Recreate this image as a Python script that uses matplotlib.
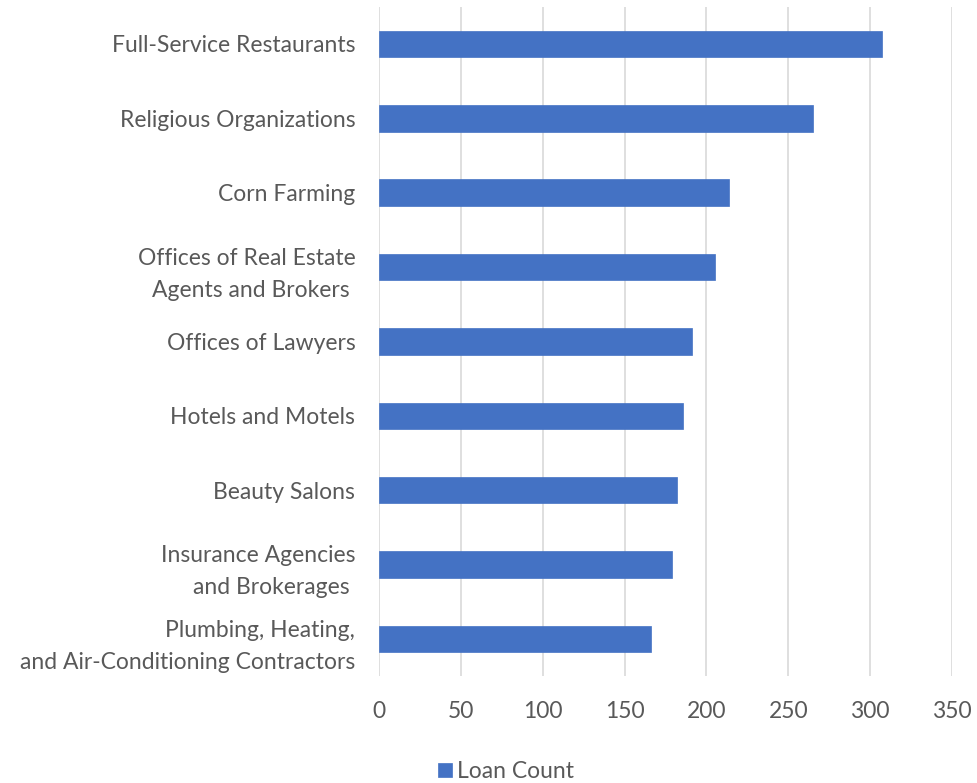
import matplotlib
matplotlib.use("Agg")
import matplotlib.pyplot as plt

categories = [
    "Full-Service Restaurants",
    "Religious Organizations",
    "Corn Farming",
    "Offices of Real Estate\nAgents and Brokers ",
    "Offices of Lawyers",
    "Hotels and Motels",
    "Beauty Salons",
    "Insurance Agencies\nand Brokerages ",
    "Plumbing, Heating,\nand Air-Conditioning Contractors",
]
loan_count = [307, 265, 214, 205, 191, 186, 182, 179, 166]
xticks = [0, 50, 100, 150, 200, 250, 300, 350]

plt.rcParams['font.family'] = ['Lato', 'DejaVu Sans']

fig = plt.figure(figsize=(9.77, 7.83), dpi=100)
ax = fig.add_axes([0.3879, 0.1367, 0.9744 - 0.3879, 0.9913 - 0.1367])

ypos = list(range(len(categories)))
ax.barh(ypos, loan_count, height=0.355, color="#4472C4", edgecolor="#4472C4",
        linewidth=0.5, label="Loan Count", zorder=3)
ax.set_yticks(ypos)
ax.set_yticklabels(categories, multialignment='right', linespacing=1.65)
ax.set_ylim(len(categories) - 0.5, -0.5)
ax.set_xlim(0, 350)
ax.set_xticks(xticks)
ax.set_xticklabels([str(t) for t in xticks])
ax.grid(axis='x', color="#d9d9d9", linewidth=1.2, zorder=0)
for s in ax.spines.values():
    s.set_visible(False)
ax.tick_params(axis='both', length=0, labelsize=16.5, colors="#595959")
ax.tick_params(axis='y', pad=17)
ax.tick_params(axis='x', pad=18)

fig.legend(loc='lower center', bbox_to_anchor=(0.518, -0.025), frameon=False,
           fontsize=16.5, labelcolor="#595959", handlelength=0.6, handleheight=0.6,
           handletextpad=0.25)

fig.savefig("out.png", dpi=100)
